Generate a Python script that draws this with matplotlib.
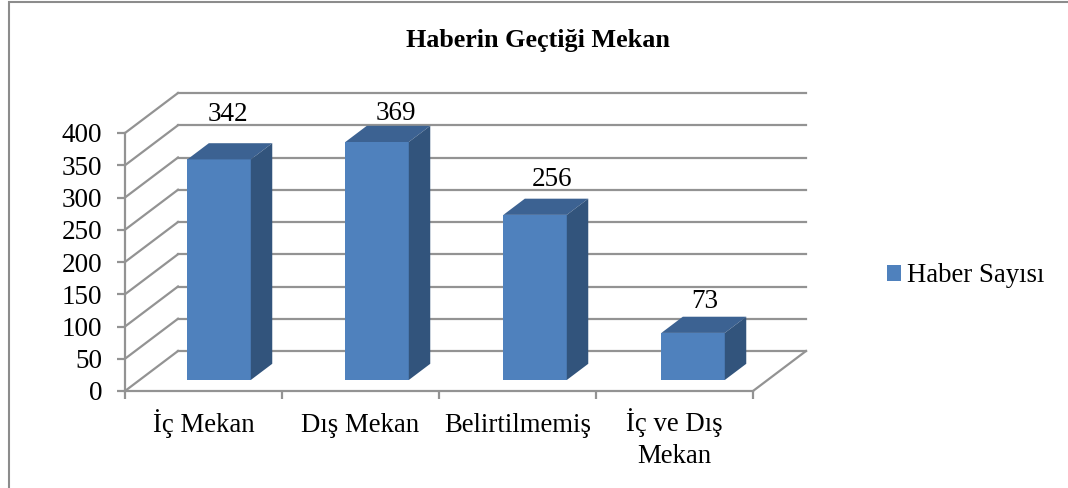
import matplotlib
matplotlib.use('Agg')
import matplotlib.pyplot as plt
from matplotlib.patches import Polygon, Patch, Rectangle

categories = ['İç Mekan', 'Dış Mekan', 'Belirtilmemiş', 'İç ve Dış\nMekan']
values = [342, 369, 256, 73]
series_name = 'Haber Sayısı'
title = 'Haberin Geçtiği Mekan'
y_ticks = [0, 50, 100, 150, 200, 250, 300, 350, 400]

W, H = 1068, 488
PT = 0.72  # points per pixel at dpi 100
GRID = '#939393'
FRONT = '#4F81BD'
TOP = '#3C6292'
SIDE = '#32547C'

# fake 3d: how far the back wall sits from the front, in data units
depth_x = 53 / 157
depth_y = 40 / 0.645
bar_w = 0.404
bar_pitch = 158 / 157
bar_shift = 1 / 157
d0, d1 = 0.275, 0.68

# label nudges in pixels, from the front face centre / back top edge of each bar
label_dx = [9, 19, 17, 12]
label_dy = [22, 6, 13, 9]
cat_pad = [41, 41, 41, 72]

plt.rcParams['font.family'] = ['Liberation Serif', 'DejaVu Serif']

fig = plt.figure(figsize=(W / 100, H / 100), dpi=100)
ax = fig.add_axes([125 / W, 1 - 391 / H, 628 / W, 258 / H])
ax.set_xlim(0, len(categories))
ax.set_ylim(0, 400)
ax.patch.set_alpha(0)

# chart border
fig.add_artist(Rectangle((9 / W, -0.02), 1.1, 1 - 2 / H + 0.02, transform=fig.transFigure,
                         fill=False, ec='#8c8c8c', lw=1.5))

n = len(categories)
for t in y_ticks:
    ax.plot([0, depth_x], [t, t + depth_y], color=GRID, lw=1.6, clip_on=False, zorder=1)
    ax.plot([depth_x, n + depth_x], [t + depth_y, t + depth_y], color=GRID, lw=1.6, clip_on=False, zorder=1)
ax.plot([n, n + depth_x], [0, depth_y], color=GRID, lw=1.6, clip_on=False, zorder=1)

for i, v in enumerate(values):
    x0 = i * bar_pitch + 0.5 - bar_w / 2 + d0 * depth_x + bar_shift
    x1 = x0 + bar_w
    y0 = d0 * depth_y
    dx = (d1 - d0) * depth_x
    dy = (d1 - d0) * depth_y
    ax.add_patch(Polygon([(x0, y0), (x1, y0), (x1, y0 + v), (x0, y0 + v)], fc=FRONT, ec='none', clip_on=False, zorder=3))
    ax.add_patch(Polygon([(x0, y0 + v), (x1, y0 + v), (x1 + dx, y0 + v + dy), (x0 + dx, y0 + v + dy)], fc=TOP, ec='none', clip_on=False, zorder=3))
    ax.add_patch(Polygon([(x1, y0), (x1 + dx, y0 + dy), (x1 + dx, y0 + v + dy), (x1, y0 + v)], fc=SIDE, ec='none', clip_on=False, zorder=3))
    ax.annotate(str(v), (x0 + bar_w / 2, y0 + v + dy), xytext=(label_dx[i] * PT, label_dy[i] * PT),
                textcoords='offset points', ha='center', va='baseline', fontsize=19.5,
                color='black', zorder=4, annotation_clip=False)

for s in ['top', 'right']:
    ax.spines[s].set_visible(False)
for s in ['left', 'bottom']:
    ax.spines[s].set_color(GRID)
    ax.spines[s].set_linewidth(1.6)

ax.set_yticks(y_ticks)
ax.set_xticks(range(n + 1))
ax.set_xticklabels([])
ax.set_xticks([i + 0.5 for i in range(n)], categories, minor=True)
ax.tick_params(axis='x', which='major', color=GRID, width=1.6, length=5.8)
ax.tick_params(axis='x', which='minor', length=0, labelsize=19.3)
ax.tick_params(axis='y', color=GRID, width=1.6, length=5.8, labelsize=19.5, pad=10.5)
for tick, pad in zip(ax.xaxis.get_minor_ticks(), cat_pad):
    tick.set_pad(pad * PT)
    tick.label1.set_va('baseline')
    tick.label1.set_linespacing(1.35)

fig.text(538.5 / W, 1 - 41 / H, title, ha='center', va='center', fontsize=18.85, fontweight='bold')

fig.legend(handles=[Patch(fc=FRONT, ec='none', label=series_name)], loc='center left',
           bbox_to_anchor=(887 / W, 1 - 276 / H), frameon=False, fontsize=19.25,
           handlelength=0.525, handleheight=0.525, handletextpad=0.22, borderpad=0, borderaxespad=0)

fig.savefig('out.png', dpi=100)
